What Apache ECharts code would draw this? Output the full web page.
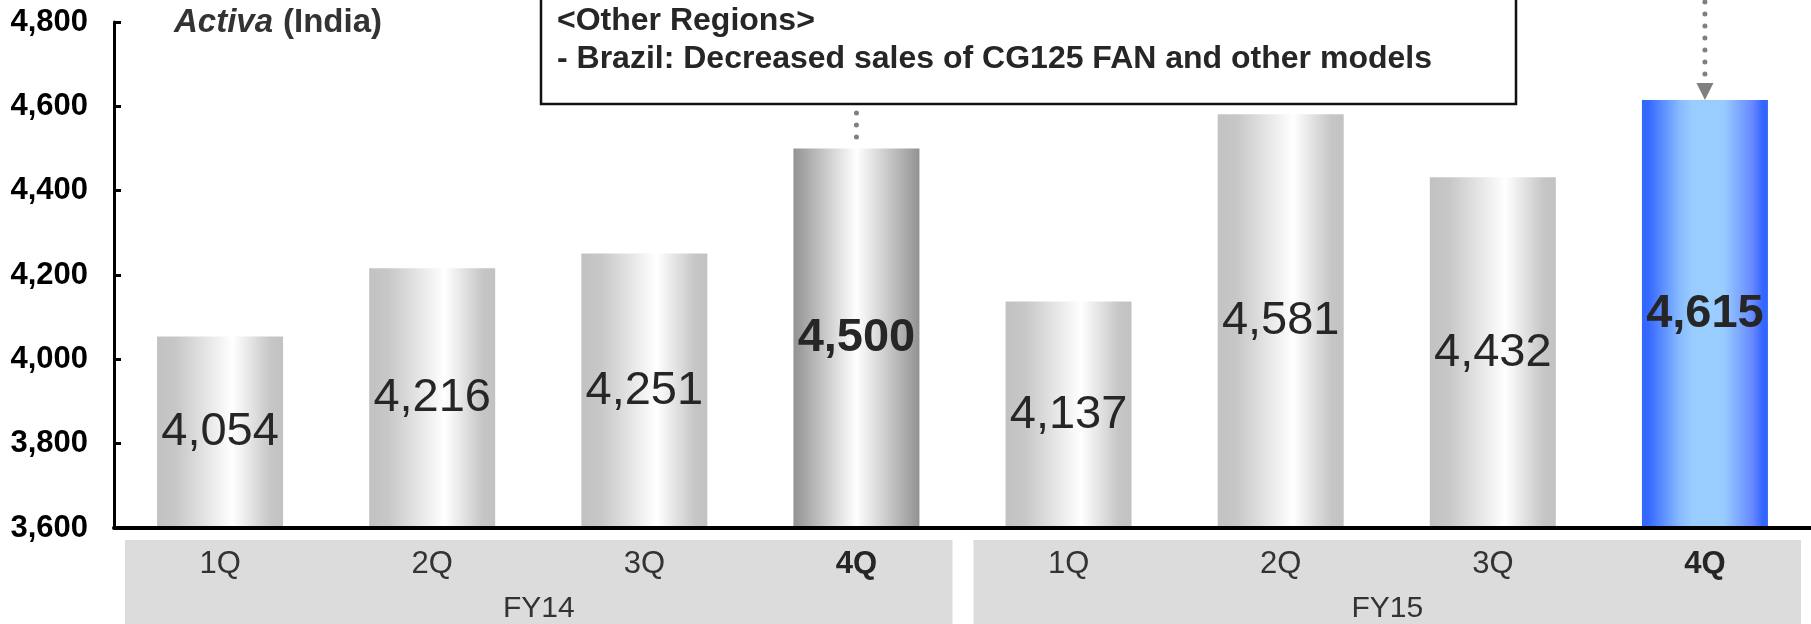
<!DOCTYPE html>
<html>
<head>
<meta charset="utf-8">
<script src="https://cdn.jsdelivr.net/npm/echarts@6/dist/echarts.min.js"></script>
<style>
  html, body { margin: 0; padding: 0; background: #fff; }
  #chart { width: 1811px; height: 624px; }
</style>
</head>
<body>
<div id="chart"></div>
<script>
// Activa (India) quarterly sales, thousand units
const years = ['FY14', 'FY15'];
const quarters = ['1Q', '2Q', '3Q', '4Q'];
const sales = [4054, 4216, 4251, 4500, 4137, 4581, 4432, 4615];
const yMin = 3600, yMax = 4800, yStep = 200;
const noteLines = ['<Other Regions>', '- Brazil: Decreased sales of CG125 FAN and other models'];

const FONT = "'Liberation Sans', Arial, sans-serif";
const categories = [];
years.forEach(y => quarters.forEach(q => categories.push(y + '|' + q)));

function grad(stops) {
    return new echarts.graphic.LinearGradient(0, 0, 1, 0,
        stops.map(s => ({ offset: s[0], color: s[1] })));
}
const silver = () => grad([[0, '#c2c2c2'], [0.15, '#c7c7c7'], [0.6, '#ffffff'], [0.9, '#c6c6c6'], [1, '#c2c2c2']]);
const darkSilver = () => grad([[0, '#929292'], [0.5, '#ffffff'], [1, '#929292']]);
const blue = () => grad([[0, '#3366ff'], [0.05, '#3568ff'], [0.3, '#88bbff'], [0.4, '#99ccff'], [0.65, '#99ccff'], [0.88, '#6688ff'], [0.96, '#3366ff'], [1, '#3366ff']]);

const barData = sales.map((v, i) => {
    const last = i === sales.length - 1;
    const q4 = i % 4 === 3;
    return {
        value: v,
        itemStyle: { color: last ? blue() : (q4 ? darkSilver() : silver()) },
        label: { fontWeight: q4 ? 'bold' : 'normal' }
    };
});

var myChart = echarts.init(document.getElementById('chart'));
var option = {
    animation: false,
    title: {
        text: '{i|Activa}  {b|(India)}',
        left: 169,
        top: 1,
        textStyle: {
            rich: {
                i: { fontFamily: FONT, fontSize: 33, fontWeight: 'bold', fontStyle: 'italic', color: '#333' },
                b: { fontFamily: FONT, fontSize: 33, fontWeight: 'bold', color: '#333' }
            }
        }
    },
    grid: { left: 114, right: -6, top: 22, bottom: 96 },
    xAxis: {
        type: 'category',
        data: categories,
        z: 10,
        axisLine: { lineStyle: { color: '#000', width: 4 } },
        axisTick: { show: false },
        axisLabel: {
            margin: 21,
            fontFamily: FONT,
            fontSize: 31,
            color: '#333',
            formatter: function (val) {
                const q = val.split('|')[1];
                return q === '4Q' ? '{b|' + q + '}' : q;
            },
            rich: { b: { fontFamily: FONT, fontSize: 31, fontWeight: 'bold', color: '#262626' } }
        }
    },
    yAxis: {
        type: 'value',
        min: yMin,
        max: yMax,
        interval: yStep,
        splitLine: { show: false },
        axisLine: { show: true, lineStyle: { color: '#000', width: 3 } },
        axisTick: { show: true, inside: true, length: 7, lineStyle: { color: '#000', width: 3 } },
        axisLabel: {
            margin: 26,
            fontFamily: FONT,
            fontSize: 31,
            fontWeight: 'bold',
            color: '#000',
            formatter: v => v.toLocaleString('en-US')
        }
    },
    series: [{
        type: 'bar',
        barWidth: 126,
        data: barData,
        label: {
            show: true,
            position: 'inside',
            fontFamily: FONT,
            fontSize: 47,
            color: '#262626',
            formatter: p => p.value.toLocaleString('en-US')
        }
    }]
};
myChart.setOption(option);

// category bands, year labels, note box and arrows placed through the axes
const px = (i, v) => myChart.convertToPixel({ gridIndex: 0 }, [i, v]);
const band = px(1, yMin)[0] - px(0, yMin)[0];
const axisY = px(0, yMin)[1];
const els = [];
years.forEach((y, k) => {
    const x0 = px(k * 4, yMin)[0] - band / 2 + 11;
    const x1 = px(k * 4 + 3, yMin)[0] + band / 2 - 10;
    els.push({
        type: 'rect', z: -1,
        shape: { x: x0, y: axisY + 12, width: x1 - x0, height: 200 },
        style: { fill: '#dcdcdc' }
    });
    els.push({
        type: 'text', z: 5,
        x: (x0 + x1) / 2, y: axisY + 81,
        style: { text: y, fontFamily: FONT, fontSize: 30, fill: '#333', align: 'center', verticalAlign: 'middle' }
    });
});

// note box
const boxLeft = 541, boxRight = 1516, boxBottom = 104;
els.push({
    type: 'rect', z: 5,
    shape: { x: boxLeft, y: -10, width: boxRight - boxLeft, height: boxBottom + 10 },
    style: { fill: '#fff', stroke: '#111', lineWidth: 2.5 }
});
noteLines.forEach((t, i) => {
    els.push({
        type: 'text', z: 6,
        x: boxLeft + 16, y: 21 + i * 38,
        style: { text: t, fontFamily: FONT, fontSize: 32, fontWeight: 'bold', fill: '#262626', verticalAlign: 'middle' }
    });
});

// dotted connector to FY14 4Q
const c4 = px(3, sales[3]);
els.push({
    type: 'line', z: 6,
    shape: { x1: c4[0], y1: boxBottom + 9, x2: c4[0], y2: c4[1] },
    style: { stroke: '#808080', lineWidth: 5, lineDash: [0, 12], lineCap: 'round' }
});
// dotted arrow to FY15 4Q
const c8 = px(7, sales[7]);
els.push({
    type: 'line', z: 6,
    shape: { x1: c8[0], y1: 2, x2: c8[0], y2: c8[1] - 26 },
    style: { stroke: '#808080', lineWidth: 5, lineDash: [0, 12], lineCap: 'round' }
});
els.push({
    type: 'polygon', z: 6,
    shape: { points: [[c8[0] - 8.5, c8[1] - 17], [c8[0] + 8.5, c8[1] - 17], [c8[0], c8[1]]] },
    style: { fill: '#808080' }
});

myChart.setOption({ graphic: els });
</script>
</body>
</html>
